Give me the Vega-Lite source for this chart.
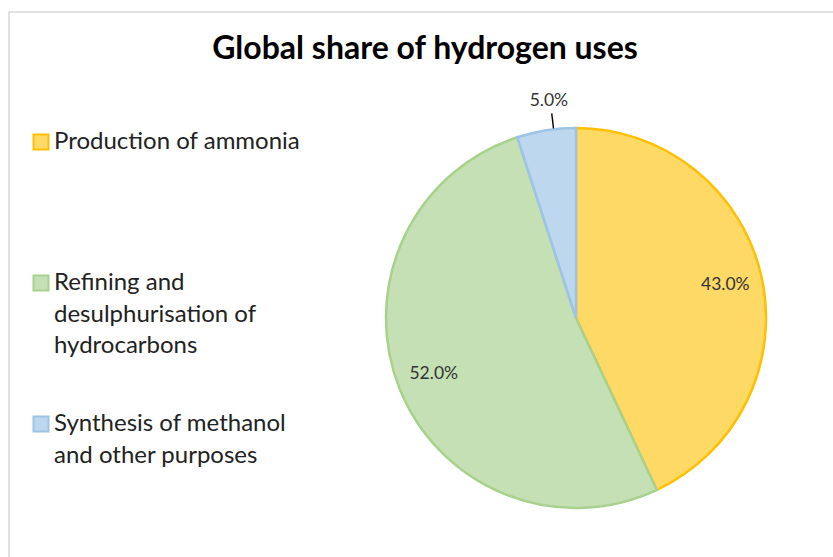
{
  "$schema": "https://vega.github.io/schema/vega-lite/v6.json",
  "autosize": {"type": "none"},
  "padding": {"left": 9, "top": 12, "right": 0, "bottom": 0},
  "width": 1134,
  "height": 612,
  "background": "#ffffff",
  "view": {"stroke": "#d9d9d9", "strokeWidth": 1.6},
  "config": {
    "view": {"stroke": "#d9d9d9", "strokeWidth": 1.6},
    "font": "Lato"
  },
  "title": {
    "text": "Global share of hydrogen uses",
    "font": "Lato",
    "fontSize": 32,
    "fontWeight": "bold",
    "color": "#000000",
    "anchor": "middle",
    "frame": "group",
    "baseline": "alphabetic",
    "dx": -151,
    "offset": -79
  },
  "data": {
    "values": [
      {"use": "Production of ammonia", "share": 0.43},
      {"use": "Refining and desulphurisation of hydrocarbons", "share": 0.52},
      {"use": "Synthesis of methanol and other purposes", "share": 0.05}
    ]
  },
  "encoding": {
    "theta": {"field": "share", "type": "quantitative", "stack": true},
    "order": {"field": "use", "sort": "ascending"}
  },
  "layer": [
    {
      "mark": {"type": "arc", "outerRadius": 190, "strokeWidth": 2.5},
      "encoding": {
        "fill": {
          "field": "use",
          "type": "nominal",
          "scale": {
            "domain": ["Production of ammonia", "Refining and desulphurisation of hydrocarbons", "Synthesis of methanol and other purposes"],
            "range": ["#FFD966", "#C5E0B4", "#BDD7EE"]
          },
          "legend": {
            "orient": "none",
            "legendX": 20,
            "legendY": 118,
            "title": null,
            "padding": 0,
            "symbolType": "square",
            "symbolSize": 225,
            "symbolStrokeWidth": 2,
            "labelFont": "Lato",
            "labelFontSize": 24,
            "labelColor": "#222222",
            "labelLimit": 600,
            "labelOffset": 1,
            "labelBaseline": "top",
            "gridAlign": "all",
            "rowPadding": 54,
            "labelExpr": "datum.label === 'Refining and desulphurisation of hydrocarbons' ? ['Refining and', 'desulphurisation of', 'hydrocarbons'] : datum.label === 'Synthesis of methanol and other purposes' ? ['Synthesis of methanol', 'and other purposes'] : datum.label",
            "encode": {"labels": {"update": {"dy": {"value": -12}, "lineHeight": {"value": 31.5}}}}
          }
        },
        "stroke": {
          "field": "use",
          "type": "nominal",
          "scale": {
            "domain": ["Production of ammonia", "Refining and desulphurisation of hydrocarbons", "Synthesis of methanol and other purposes"],
            "range": ["#FFC000", "#A9D18E", "#9DC3E6"]
          },
          "legend": {
            "orient": "none",
            "legendX": 20,
            "legendY": 118,
            "title": null,
            "padding": 0,
            "symbolType": "square",
            "symbolSize": 225,
            "symbolStrokeWidth": 2,
            "labelFont": "Lato",
            "labelFontSize": 24,
            "labelColor": "#222222",
            "labelLimit": 600,
            "labelOffset": 1,
            "labelBaseline": "top",
            "gridAlign": "all",
            "rowPadding": 54,
            "labelExpr": "datum.label === 'Refining and desulphurisation of hydrocarbons' ? ['Refining and', 'desulphurisation of', 'hydrocarbons'] : datum.label === 'Synthesis of methanol and other purposes' ? ['Synthesis of methanol', 'and other purposes'] : datum.label",
            "encode": {"labels": {"update": {"dy": {"value": -12}, "lineHeight": {"value": 31.5}}}}
          }
        }
      }
    },
    {
      "mark": {"type": "text", "radius": 153, "font": "Lato", "fontSize": 17.5, "color": "#333333"},
      "encoding": {
        "detail": {"field": "use", "type": "nominal"},
        "text": {"field": "share", "type": "quantitative", "format": ".1%"},
        "opacity": {"condition": {"test": "datum.share < 0.1", "value": 0}, "value": 1}
      }
    },
    {
      "mark": {"type": "text", "radius": 218, "dx": 7, "dy": -2, "font": "Lato", "fontSize": 17.5, "color": "#333333"},
      "encoding": {
        "detail": {"field": "use", "type": "nominal"},
        "text": {"field": "share", "type": "quantitative", "format": ".1%"},
        "opacity": {"condition": {"test": "datum.share < 0.1", "value": 1}, "value": 0}
      }
    },
    {
      "mark": {"type": "arc", "radius": 206, "radius2": 191, "padAngle": 0.6, "thetaOffset": 0.039, "fillOpacity": 0, "stroke": "#000000", "strokeWidth": 1.4},
      "encoding": {
        "detail": {"field": "use", "type": "nominal"},
        "strokeOpacity": {"condition": {"test": "datum.share < 0.1", "value": 1}, "value": 0}
      }
    }
  ]
}
